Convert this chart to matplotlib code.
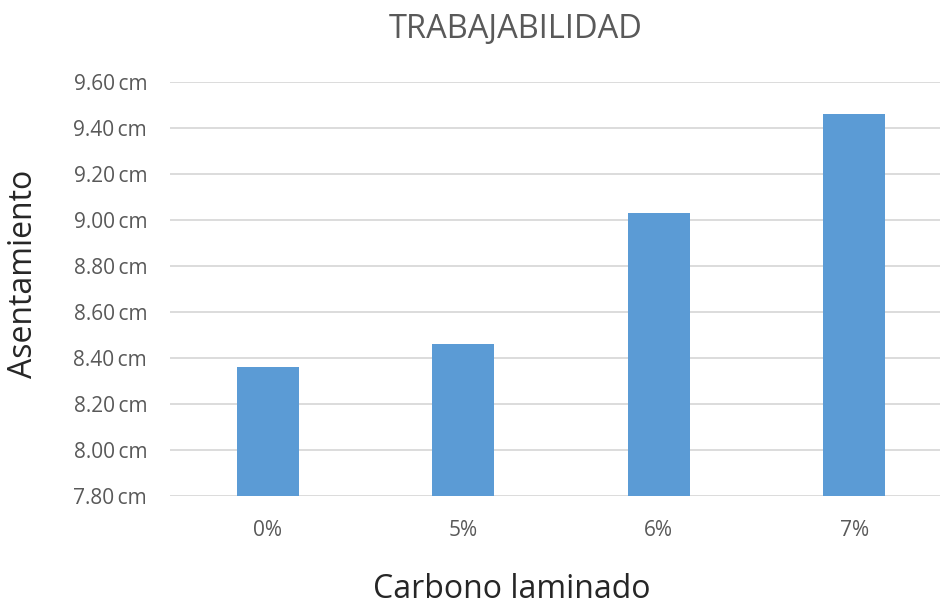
import matplotlib
matplotlib.use("Agg")
import matplotlib.pyplot as plt
from matplotlib.ticker import FuncFormatter

categories = ["0%", "5%", "6%", "7%"]
asentamiento = [8.36, 8.46, 9.03, 9.46]
y_ticks = [7.80, 8.00, 8.20, 8.40, 8.60, 8.80, 9.00, 9.20, 9.40, 9.60]

title = "TRABAJABILIDAD"
x_label = "Carbono laminado"
y_label = "Asentamiento"

plt.rcParams["font.family"] = ["Open Sans", "DejaVu Sans"]

W, H = 940, 605
fig = plt.figure(figsize=(W / 100, H / 100), dpi=100)
fig.patch.set_facecolor("white")

left, right, bottom, top = 170, 952, 496, 82
ax = fig.add_axes([left / W, (H - bottom) / H, (right - left) / W, (bottom - top) / H])

x = range(len(categories))
ax.bar(x, asentamiento, width=0.315, color="#5B9BD5", zorder=3)

ax.set_xlim(-0.5, len(categories) - 0.5)
ax.set_ylim(y_ticks[0], y_ticks[-1])
ax.set_yticks(y_ticks)
ax.yaxis.set_major_formatter(FuncFormatter(lambda v, p: f"{v:.2f}\u2009cm"))
ax.set_xticks(list(x))
ax.set_xticklabels(categories)

ax.grid(axis="y", color="#D9D9D9", linewidth=1.3, zorder=0)
ax.set_axisbelow(True)
for s in ax.spines.values():
    s.set_visible(False)
ax.tick_params(axis="both", length=0, colors="#595959", labelsize=15)
ax.tick_params(axis="y", pad=16.5)
ax.tick_params(axis="x", pad=17)
ax.set_facecolor("white")

fig.text(516 / W, 1 - 29 / H, title, ha="center", va="center",
         fontsize=23.5, color="#595959")
fig.text(512 / W, 1 - 589 / H, x_label, ha="center", va="center",
         fontsize=23, color="#262626")
fig.text(24 / W, 1 - 274 / H, y_label, ha="center", va="center",
         rotation=90, fontsize=23, color="#262626")

fig.savefig("out.png", dpi=100, facecolor="white")
